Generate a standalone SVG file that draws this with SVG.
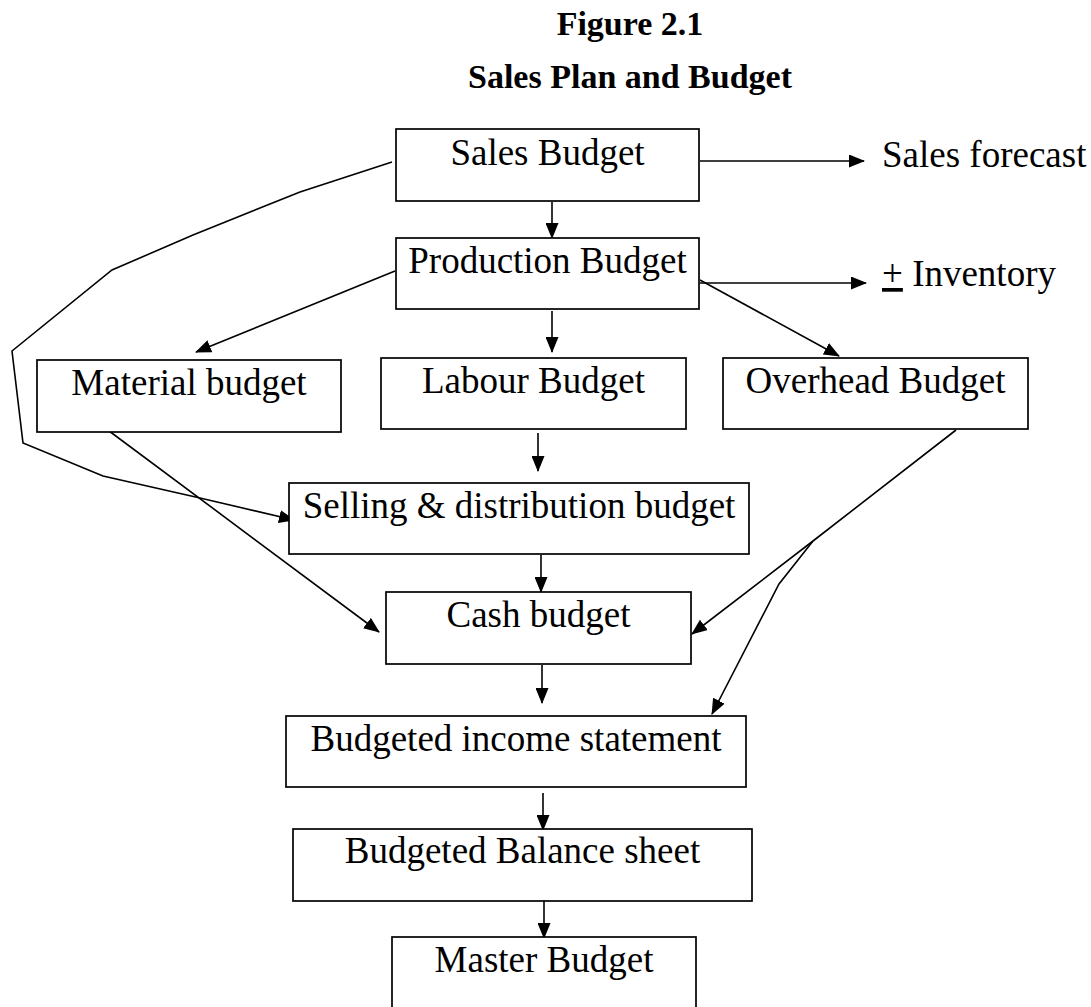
<svg xmlns="http://www.w3.org/2000/svg" width="1091" height="1007" viewBox="0 0 1091 1007">
<style>
  .box { fill: #fff; stroke: #000; stroke-width: 1.7; }
  .lbl { font-family: "Liberation Serif", "Times New Roman", serif; font-size: 37px; fill: #000; }
  .mid { text-anchor: middle; }
  .title { font-family: "Liberation Serif", "Times New Roman", serif; font-size: 34px; font-weight: bold; text-anchor: middle; fill: #000; }
  .conn { fill: none; stroke: #000; stroke-width: 1.6; }
  .arr { marker-end: url(#ah); }
</style>
<defs>
  <marker id="ah" viewBox="0 0 16 13" refX="15" refY="6.5" markerWidth="16" markerHeight="13" markerUnits="userSpaceOnUse" orient="auto">
    <path d="M0,0 L16,6.5 L0,13 z" fill="#000"/>
  </marker>
</defs>
<rect width="1091" height="1007" fill="#fff"/>
<g id="title">
  <text class="title" x="630" y="35">Figure 2.1</text>
  <text class="title" x="630" y="88">Sales Plan and Budget</text>
</g>
<g id="connectors">
  <line class="conn arr" x1="552" y1="202" x2="552" y2="238"/>
  <line class="conn arr" x1="700" y1="161" x2="864" y2="161"/>
  <line class="conn arr" x1="700" y1="283" x2="866" y2="283"/>
  <line class="conn arr" x1="552" y1="311" x2="552" y2="352"/>
  <line class="conn arr" x1="395" y1="271" x2="196" y2="352"/>
  <line class="conn arr" x1="700" y1="280" x2="839" y2="356"/>
  <polyline class="conn arr" points="392,162 300,192 193,235 112,270 12,351 23,443 103,476 200,498 294,520"/>
  <line class="conn arr" x1="538" y1="433" x2="538" y2="471"/>
  <line class="conn arr" x1="93" y1="419" x2="379" y2="632"/>
  <polyline class="conn arr" points="956,430 813,541 692,634"/>
  <polyline class="conn arr" points="813,541 779,584 712,714"/>
  <line class="conn arr" x1="541" y1="555" x2="541" y2="592"/>
  <line class="conn arr" x1="542" y1="665" x2="542" y2="703"/>
  <line class="conn arr" x1="543" y1="793" x2="543" y2="830"/>
  <line class="conn arr" x1="544" y1="901" x2="544" y2="938"/>
</g>
<g id="sales-budget">
  <rect class="box" x="396" y="129" width="303" height="72"/>
  <text class="lbl mid" x="547.5" y="165">Sales Budget</text>
</g>
<g id="sales-forecast">
  <text class="lbl" x="882" y="167">Sales forecast</text>
</g>
<g id="production-budget">
  <rect class="box" x="396" y="238" width="303" height="71"/>
  <text class="lbl mid" x="547.5" y="273">Production Budget</text>
</g>
<g id="inventory">
  <text class="lbl" x="882" y="286"><tspan text-decoration="underline">+</tspan> Inventory</text>
</g>
<g id="material-budget">
  <rect class="box" x="37" y="360" width="304" height="72"/>
  <text class="lbl mid" x="189" y="395">Material budget</text>
</g>
<g id="labour-budget">
  <rect class="box" x="381" y="358" width="305" height="71"/>
  <text class="lbl mid" x="533.5" y="393">Labour Budget</text>
</g>
<g id="overhead-budget">
  <rect class="box" x="723" y="358" width="305" height="71"/>
  <text class="lbl mid" x="875.5" y="393">Overhead Budget</text>
</g>
<g id="selling-distribution-budget">
  <rect class="box" x="289" y="483" width="460" height="71"/>
  <text class="lbl mid" x="519" y="518">Selling &amp; distribution budget</text>
</g>
<g id="cash-budget">
  <rect class="box" x="386" y="592" width="305" height="72"/>
  <text class="lbl mid" x="538.5" y="627">Cash budget</text>
</g>
<g id="budgeted-income-statement">
  <rect class="box" x="286" y="716" width="460" height="71"/>
  <text class="lbl mid" x="516" y="751">Budgeted income statement</text>
</g>
<g id="budgeted-balance-sheet">
  <rect class="box" x="293" y="829" width="459" height="72"/>
  <text class="lbl mid" x="522.5" y="863">Budgeted Balance sheet</text>
</g>
<g id="master-budget">
  <rect class="box" x="392" y="937" width="304" height="80"/>
  <text class="lbl mid" x="544" y="972">Master Budget</text>
</g>
</svg>
